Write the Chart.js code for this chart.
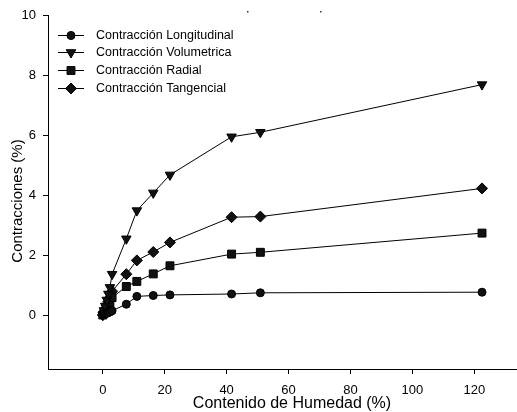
<!DOCTYPE html>
<html>
<head>
<meta charset="utf-8">
<script src="https://cdn.jsdelivr.net/npm/chart.js@4/dist/chart.umd.min.js"></script>
<style>
html,body{margin:0;padding:0;background:#fff;}
#wrap{width:517px;height:412px;position:relative;}
</style>
</head>
<body>
<div id="wrap"><canvas id="c" width="517" height="412"></canvas></div>
<script>
// Data
const humedad = [0, 0.4, 0.8, 1.3, 1.8, 2.3, 3.0, 7.6, 11.0, 16.3, 21.7, 41.6, 50.9, 122.5];
const longitudinal = [0, 0.02, 0.04, 0.06, 0.08, 0.10, 0.14, 0.36, 0.62, 0.65, 0.67, 0.70, 0.74, 0.76];
const volumetrica = [0, 0.15, 0.30, 0.50, 0.70, 0.92, 1.36, 2.54, 3.48, 4.07, 4.67, 5.94, 6.09, 7.68];
const radial = [0, 0.06, 0.13, 0.22, 0.30, 0.40, 0.58, 0.95, 1.12, 1.37, 1.64, 2.03, 2.09, 2.73];
const tangencial = [0, 0.10, 0.20, 0.33, 0.45, 0.58, 0.79, 1.36, 1.82, 2.10, 2.42, 3.26, 3.28, 4.22];
const seriesNames = ['Contracción Longitudinal', 'Contracción Volumetrica', 'Contracción Radial', 'Contracción Tangencial'];
const xTicks = [0, 20, 40, 60, 80, 100, 120];
const yTicks = [0, 2, 4, 6, 8, 10];
const xTitle = 'Contenido de Humedad (%)';
const yTitle = 'Contracciones (%)';

const FONT = "'Liberation Sans', Arial, sans-serif";
const toPts = ys => humedad.map((x, i) => ({x: x, y: ys[i]}));

function ds(label, ys, style, radius, rotation) {
  return {
    label: label, data: toPts(ys), showLine: true,
    borderColor: '#000', borderWidth: 1,
    pointStyle: style, pointRadius: radius, pointHoverRadius: radius,
    pointRotation: rotation, pointBackgroundColor: '#111', pointBorderColor: '#000',
    pointBorderWidth: 1
  };
}

const legendPlugin = {
  id: 'customLegend',
  afterDraw(chart) {
    const ctx = chart.ctx;
    ctx.save();
    const rows = [35, 52, 70, 88];
    chart.data.datasets.forEach((d, i) => {
      const y = rows[i];
      ctx.strokeStyle = '#000'; ctx.lineWidth = 1;
      ctx.beginPath(); ctx.moveTo(58, y + 0.5); ctx.lineTo(84, y + 0.5); ctx.stroke();
      ctx.fillStyle = '#111';
      Chart.helpers.drawPoint(ctx, {pointStyle: d.pointStyle, radius: d.pointRadius, rotation: d.pointRotation, borderWidth: 1}, 71, y + 0.5);
      ctx.fill();
      ctx.fillStyle = '#000';
      ctx.font = '12.5px ' + FONT;
      ctx.textAlign = 'left'; ctx.textBaseline = 'middle';
      ctx.fillText(d.label, 96, y + 1);
    });
    ctx.fillStyle = '#000';
    ctx.font = '16px ' + FONT;
    ctx.textAlign = 'center'; ctx.textBaseline = 'middle';
    ctx.fillText(xTitle, 292, 404);
    ctx.save();
    ctx.font = '15px ' + FONT;
    ctx.translate(18, 201);
    ctx.rotate(-Math.PI / 2);
    ctx.fillText(yTitle, 0, 0);
    ctx.restore();
    ctx.fillStyle = '#333';
    ctx.fillRect(247, 11, 1.5, 1.5);
    ctx.fillRect(320, 11, 1.5, 1.5);
    ctx.restore();
  }
};

new Chart(document.getElementById('c'), {
  type: 'scatter',
  data: {
    datasets: [
      ds(seriesNames[0], longitudinal, 'circle', 4, 0),
      ds(seriesNames[1], volumetrica, 'triangle', 5.5, 180),
      ds(seriesNames[2], radial, 'rect', 5.6, 0),
      ds(seriesNames[3], tangencial, 'rectRot', 5.5, 0)
    ]
  },
  options: {
    responsive: false, animation: false,
    layout: {autoPadding: false, padding: {top: 15, right: 0, left: 0, bottom: 0}},
    plugins: {legend: {display: false}, tooltip: {enabled: false}, title: {display: false}},
    scales: {
      x: {
        type: 'linear', min: -17.7, max: 133.8,
        afterBuildTicks: s => { s.ticks = xTicks.map(v => ({value: v})); },
        afterFit: s => { s.height = 43; },
        grid: {display: true, drawOnChartArea: false, drawTicks: true, tickLength: 5, color: '#000', lineWidth: 1},
        border: {display: true, color: '#000', width: 1},
        ticks: {color: '#000', font: {family: FONT, size: 13}, padding: 9, maxRotation: 0, autoSkip: false}
      },
      y: {
        type: 'linear', min: -1.8, max: 10,
        afterBuildTicks: s => { s.ticks = yTicks.map(v => ({value: v})); },
        afterFit: s => { s.width = 48; },
        grid: {display: true, drawOnChartArea: false, drawTicks: true, tickLength: 5, color: '#000', lineWidth: 1},
        border: {display: true, color: '#000', width: 1},
        ticks: {color: '#000', font: {family: FONT, size: 13}, padding: 7, autoSkip: false}
      }
    }
  },
  plugins: [legendPlugin]
});
</script>
</body>
</html>
